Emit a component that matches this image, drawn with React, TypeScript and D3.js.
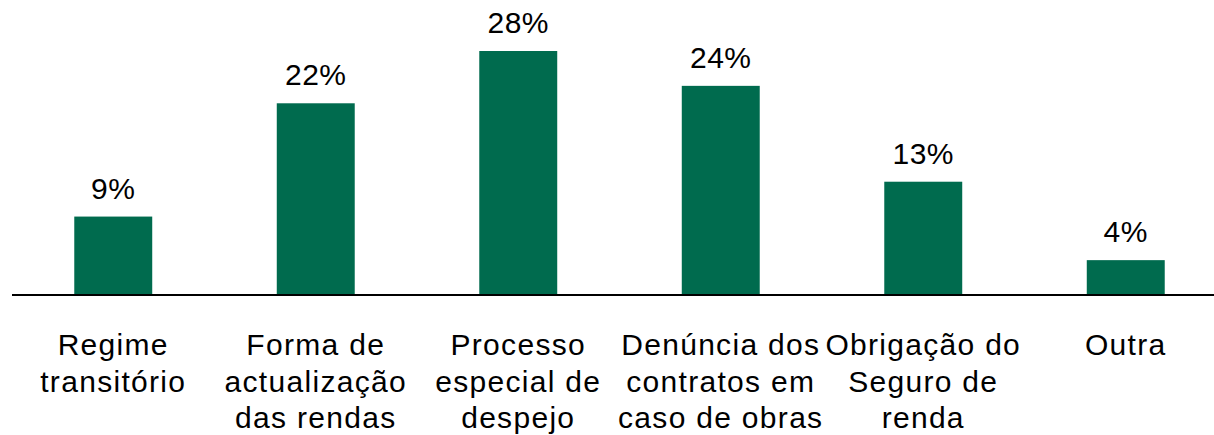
import React, { useEffect, useRef } from 'react';
import { select, scaleBand, scaleLinear } from 'd3';

const categories = [
  ['Regime', 'transitório'],
  ['Forma de', 'actualização', 'das rendas'],
  ['Processo', 'especial de', 'despejo'],
  ['Denúncia dos', 'contratos em', 'caso de obras'],
  ['Obrigação do', 'Seguro de', 'renda'],
  ['Outra'],
];
const values = [9, 22, 28, 24, 13, 4];
const valueLabels = ['9%', '22%', '28%', '24%', '13%', '4%'];

const App = () => {
  const svgRef = useRef(null);

  useEffect(() => {
    document.body.style.margin = '0';
    const svg = select(svgRef.current);
    svg.selectAll('*').remove();

    const baseY = 295;
    const font = 'Liberation Sans, Arial, sans-serif';

    const x = scaleBand<number>()
      .domain(values.map((_, i) => i))
      .range([12, 1227])
      .paddingInner(0.615)
      .paddingOuter(0.3075);

    const y = scaleLinear().domain([0, 28]).range([baseY, 51]);

    // bars
    svg
      .selectAll('rect.bar')
      .data(values)
      .enter()
      .append('rect')
      .attr('class', 'bar')
      .attr('x', (_, i) => x(i)!)
      .attr('y', (d) => y(d))
      .attr('width', x.bandwidth())
      .attr('height', (d) => baseY - y(d))
      .attr('fill', '#006B4E');

    // value labels
    svg
      .selectAll('text.val')
      .data(values)
      .enter()
      .append('text')
      .attr('class', 'val')
      .attr('x', (_, i) => x(i)! + x.bandwidth() / 2)
      .attr('y', (d) => y(d) - 18)
      .attr('text-anchor', 'middle')
      .attr('font-family', font)
      .attr('font-size', 30)
      .attr('letter-spacing', 0.5)
      .attr('fill', '#000')
      .text((_, i) => valueLabels[i]);

    // axis line
    svg
      .append('line')
      .attr('x1', 12)
      .attr('x2', 1214)
      .attr('y1', baseY)
      .attr('y2', baseY)
      .attr('stroke', '#000')
      .attr('stroke-width', 2);

    // category labels
    categories.forEach((lines, i) => {
      const t = svg
        .append('text')
        .attr('text-anchor', 'middle')
        .attr('font-family', font)
        .attr('font-size', 30)
        .attr('letter-spacing', 1.3)
        .attr('fill', '#000');
      lines.forEach((line, j) => {
        t.append('tspan')
          .attr('x', x(i)! + x.bandwidth() / 2)
          .attr('y', 355 + j * 36.5)
          .text(line);
      });
    });
  }, []);

  return <svg ref={svgRef} width={1214} height={435} style={{ display: 'block' }}></svg>;
};

export default App;
